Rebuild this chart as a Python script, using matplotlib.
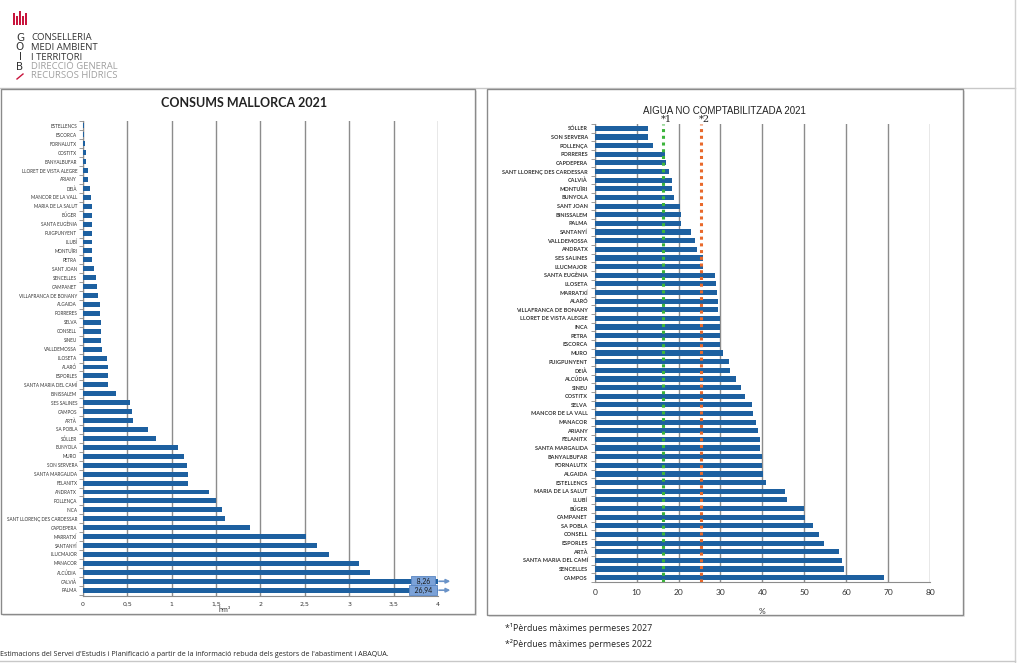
import matplotlib.pyplot as plt
from matplotlib.patches import Rectangle
from matplotlib.lines import Line2D
from matplotlib.ticker import FuncFormatter, FixedLocator
import matplotlib.transforms as mtransforms

# --- data ---
consum_munis = ["ESTELLENCS", "ESCORCA", "FORNALUTX", "COSTITX", "BANYALBUFAR",
                "LLORET DE VISTA ALEGRE", "ARIANY", "DEIÀ", "MANCOR DE LA VALL",
                "MARIA DE LA SALUT", "BÚGER", "SANTA EUGÈNIA", "PUIGPUNYENT", "LLUBÍ",
                "MONTUÏRI", "PETRA", "SANT JOAN", "SENCELLES", "CAMPANET",
                "VILLAFRANCA DE BONANY", "ALGAIDA", "PORRERES", "SELVA", "CONSELL",
                "SINEU", "VALLDEMOSSA", "LLOSETA", "ALARÓ", "ESPORLES",
                "SANTA MARIA DEL CAMÍ", "BINISSALEM", "SES SALINES", "CAMPOS", "ARTÀ",
                "SA POBLA", "SÓLLER", "BUNYOLA", "MURO", "SON SERVERA",
                "SANTA MARGALIDA", "FELANITX", "ANDRATX", "POLLENÇA", "INCA",
                "SANT LLORENÇ DES CARDESSAR", "CAPDEPERA", "MARRATXÍ", "SANTANYÍ",
                "LLUCMAJOR", "MANACOR", "ALCÚDIA", "CALVIÀ", "PALMA"]
consum_hm3 = [0.02, 0.02, 0.03, 0.04, 0.04, 0.06, 0.06, 0.08, 0.09, 0.10,
              0.10, 0.105, 0.11, 0.11, 0.11, 0.11, 0.13, 0.15, 0.16, 0.17,
              0.20, 0.20, 0.21, 0.21, 0.21, 0.22, 0.27, 0.29, 0.29, 0.29,
              0.37, 0.53, 0.55, 0.57, 0.74, 0.82, 1.07, 1.14, 1.17, 1.18,
              1.19, 1.42, 1.50, 1.57, 1.60, 1.88, 2.51, 2.64, 2.77, 3.11,
              3.24, 8.26, 26.94]

anc_munis = ["SÓLLER", "SON SERVERA", "POLLENÇA", "PORRERES", "CAPDEPERA",
             "SANT LLORENÇ DES CARDESSAR", "CALVIÀ", "MONTUÏRI", "BUNYOLA",
             "SANT JOAN", "BINISSALEM", "PALMA", "SANTANYÍ", "VALLDEMOSSA",
             "ANDRATX", "SES SALINES", "LLUCMAJOR", "SANTA EUGÈNIA", "LLOSETA",
             "MARRATXÍ", "ALARÓ", "VILLAFRANCA DE BONANY", "LLORET DE VISTA ALEGRE",
             "INCA", "PETRA", "ESCORCA", "MURO", "PUIGPUNYENT", "DEIÀ", "ALCÚDIA",
             "SINEU", "COSTITX", "SELVA", "MANCOR DE LA VALL", "MANACOR", "ARIANY",
             "FELANITX", "SANTA MARGALIDA", "BANYALBUFAR", "FORNALUTX", "ALGAIDA",
             "ESTELLENCS", "MARIA DE LA SALUT", "LLUBÍ", "BÚGER", "CAMPANET",
             "SA POBLA", "CONSELL", "ESPORLES", "ARTÀ", "SANTA MARIA DEL CAMÍ",
             "SENCELLES", "CAMPOS"]
anc_pct = [12.7, 12.8, 14.0, 16.8, 17.0, 17.7, 18.4, 18.4, 18.9, 20.4,
           20.5, 20.6, 22.9, 23.9, 24.5, 25.8, 25.8, 28.7, 29.0, 29.2,
           29.4, 29.4, 29.9, 30.0, 30.0, 30.0, 30.5, 32.0, 32.2, 33.6,
           34.8, 35.8, 37.5, 37.7, 38.6, 39.0, 39.4, 39.5, 39.8, 40.0,
           40.2, 40.9, 45.3, 45.8, 50.0, 50.2, 52.1, 53.5, 54.6, 58.4,
           58.9, 59.5, 69.0]

limit_2027 = 16.3
limit_2022 = 25.3

BLUE = "#1d60a0"
GRID = "#8c8c8c"
W, H = 1022, 663


def fx(px):
    return px / W


def fy(py):
    return 1 - py / H


def comma(v, pos):
    return f"{v:g}".replace(".", ",")


fig = plt.figure(figsize=(W / 100, H / 100), dpi=100)

# frame lines of the page
fig.add_artist(Line2D([0, fx(1015)], [fy(88), fy(88)], color="#c8c8c8", lw=1, zorder=-3))
fig.add_artist(Line2D([fx(1015), fx(1015)], [0, 1], color="#d0d0d0", lw=1, zorder=-3))
fig.add_artist(Line2D([0, fx(1015)], [fy(661), fy(661)], color="#c8c8c8", lw=1, zorder=-3))

# panel boxes
for x0, y0, x1, y1 in [(1, 89, 475, 614), (487, 89, 963, 615)]:
    fig.add_artist(Rectangle((fx(x0) + 0.002, fy(y1) - 0.003), fx(x1 - x0), fy(y0) - fy(y1),
                             transform=fig.transFigure, fc="#e6e6e6", ec="none", zorder=-2))
    fig.add_artist(Rectangle((fx(x0), fy(y1)), fx(x1 - x0), fy(y0) - fy(y1),
                             transform=fig.transFigure, fc="white", ec="#8a8a8a", lw=1, zorder=-1))

# logo
for i, xx in enumerate([13, 16, 19, 22, 25]):
    hh = [12, 9, 14, 9, 12][i]
    fig.add_artist(Rectangle((fx(xx), fy(25)), fx(2), hh / H, transform=fig.transFigure,
                             fc="#c8143c", ec="none"))
for i, ch in enumerate(["G", "O", "I", "B"]):
    fig.text(fx(20), fy(38 + i * 9.5), ch, fontsize=7.5, family="DejaVu Sans",
             ha="center", va="center", color="#333333")
fig.add_artist(Line2D([fx(17), fx(23)], [fy(79), fy(74)], color="#c8143c", lw=1))
head = ["CONSELLERIA", "MEDI AMBIENT", "I TERRITORI", "DIRECCIÓ GENERAL", "RECURSOS HÍDRICS"]
for i, t in enumerate(head):
    fig.text(fx(31), fy(38 + i * 9.5), t, fontsize=6.8, family="Open Sans",
             ha="left", va="center", color="#333333" if i < 3 else "#a0a0a0")

# --- left chart: consums ---
ax1 = fig.add_axes([fx(82.7), fy(596), fx(438 - 82.7), fy(121) - fy(596)])
y1 = list(range(len(consum_munis)))
ax1.barh(y1, consum_hm3, height=0.55, color=BLUE, zorder=3)
ax1.set_xlim(0, 4)
ax1.set_ylim(52.65, -0.55)
ax1.set_yticks(y1)
ax1.set_yticklabels(consum_munis, fontsize=3.3, family="Lato", color="#333333")
ax1.tick_params(axis="y", length=0, pad=4)
ax1.yaxis.set_minor_locator(FixedLocator([i - 0.5 for i in range(len(consum_munis) + 1)]))
ax1.tick_params(axis="y", which="minor", length=3, color=GRID, width=0.6)
ax1.set_xticks([0, 0.5, 1, 1.5, 2, 2.5, 3, 3.5, 4])
ax1.xaxis.set_major_formatter(FuncFormatter(comma))
ax1.tick_params(axis="x", length=0, labelsize=4.5, pad=4, labelcolor="#333333")
ax1.grid(axis="x", color=GRID, lw=1, zorder=0)
for s in ["top", "right"]:
    ax1.spines[s].set_visible(False)
for s in ["left", "bottom"]:
    ax1.spines[s].set_color(GRID)
    ax1.spines[s].set_linewidth(0.8)
ax1.set_xlabel("hm³", fontsize=5, family="Lato", color="#333333")
ax1.xaxis.set_label_coords(0.40, -0.02)
fig.text(fx(244), fy(103), "CONSUMS MALLORCA 2021", fontsize=9, fontweight="bold",
         family="Lato", ha="center", va="center", color="#222222")

# values beyond the axis: boxed label with arrow
for idx in [consum_munis.index("CALVIÀ"), consum_munis.index("PALMA")]:
    lab = comma(consum_hm3[idx], None)
    ax1.annotate("", xy=(4.17, idx), xytext=(3.98, idx), annotation_clip=False,
                 arrowprops=dict(arrowstyle="-|>", color="#6a93c8", lw=1.2,
                                 mutation_scale=6), zorder=5)
    ax1.text(3.83, idx, "  " + lab + "  ", fontsize=5, ha="center", va="center",
             family="Lato", color="#1a1a1a", zorder=6, clip_on=False,
             bbox=dict(boxstyle="square,pad=0.2", fc="#7ba2d8", ec="#5b86c2", lw=0.6))

# --- right chart: aigua no comptabilitzada ---
ax2 = fig.add_axes([fx(594.7), fy(582), fx(930 - 594.7), fy(124) - fy(582)])
y2 = list(range(len(anc_munis)))
ax2.barh(y2, anc_pct, height=0.6, color=BLUE, zorder=3)
ax2.set_xlim(0, 80)
ax2.set_ylim(52.5, -0.5)
ax2.set_yticks(y2)
ax2.set_yticklabels(anc_munis, fontsize=4.0, family="Lato", fontweight="bold",
                    color="#333333")
ax2.tick_params(axis="y", length=0, pad=5)
ax2.yaxis.set_minor_locator(FixedLocator([i - 0.5 for i in range(len(anc_munis) + 1)]))
ax2.tick_params(axis="y", which="minor", length=3, color=GRID, width=0.6)
ax2.set_xticks(range(0, 90, 10))
ax2.tick_params(axis="x", length=0, labelsize=6, pad=5, labelcolor="#333333")
for lab in ax2.get_xticklabels():
    lab.set_family("Lato")
ax2.grid(axis="x", color=GRID, lw=1, zorder=0)
for s in ["top", "right"]:
    ax2.spines[s].set_visible(False)
for s in ["left", "bottom"]:
    ax2.spines[s].set_color(GRID)
    ax2.spines[s].set_linewidth(0.8)
ax2.set_xlabel("%", fontsize=6, family="Lato", labelpad=9, color="#333333")

ax2.axvline(limit_2027, color="#3cb43c", ls=(0, (1, 1.2)), lw=2.2, zorder=4)
ax2.axvline(limit_2022, color="#e8692c", ls=(0, (1, 1.2)), lw=2.2, zorder=4)
trans = mtransforms.blended_transform_factory(ax2.transData, ax2.transAxes)
ax2.text(limit_2027 + 0.8, 1.0, "*1", transform=trans, fontsize=7, family="DejaVu Serif",
         ha="center", va="bottom", color="#222222")
ax2.text(limit_2022 + 0.8, 1.0, "*2", transform=trans, fontsize=7, family="DejaVu Serif",
         ha="center", va="bottom", color="#222222")
fig.text(fx(724), fy(111), "AIGUA NO COMPTABILITZADA 2021", fontsize=7, family="Liberation Sans",
         ha="center", va="center", color="#222222")

# footnotes
fig.text(fx(505), fy(628), "*¹Pèrdues màximes permeses 2027", fontsize=6.3, family="Open Sans",
         ha="left", va="center", color="#222222")
fig.text(fx(505), fy(644), "*²Pèrdues màximes permeses 2022", fontsize=6.3, family="Open Sans",
         ha="left", va="center", color="#222222")
fig.text(fx(0), fy(655),
         "Estimacions del Servei d'Estudis i Planificació a partir de la informació rebuda "
         "dels gestors de l'abastiment i ABAQUA.",
         fontsize=5.1, family="Open Sans", ha="left", va="center", color="#222222")

fig.savefig("out.png", dpi=100)
